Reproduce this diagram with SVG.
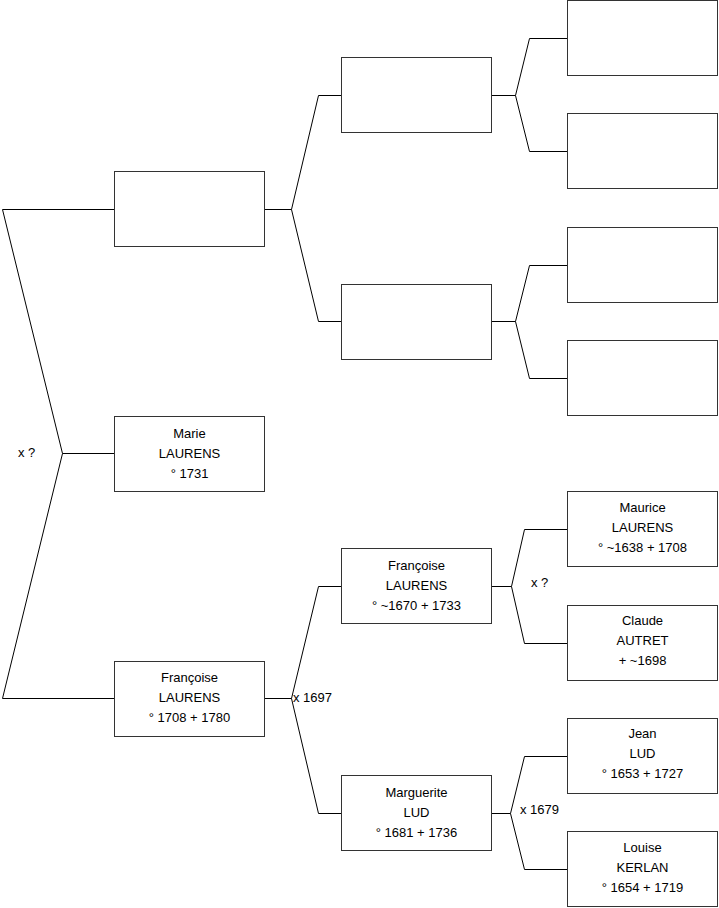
<svg xmlns="http://www.w3.org/2000/svg" width="719" height="908" viewBox="0 0 719 908">
<style>
.box{fill:#fff;stroke:#333;stroke-width:1}
.c{fill:none;stroke:#000;stroke-width:1}
text{font-family:"Liberation Sans",Arial,sans-serif;font-size:13px;fill:#000}
.m{text-anchor:middle}
</style>
<rect width="719" height="908" fill="#fff"/>
<g id="connectors">
<path class="c" d="M114.5 453.5H62.5L2.5 209.5H114.5M62.5 453.5L2.5 698.5H114.5"/>
<path class="c" d="M265 209.5H291.5L318.5 95.5H341M291.5 209.5L318.5 321.5H341"/>
<path class="c" d="M265 698.5H291.5L318.5 586.5H341M291.5 698.5L318.5 813.5H341"/>
<path class="c" d="M492 95.5H515.5L529.5 38.5H567M515.5 95.5L529.5 151.5H567"/>
<path class="c" d="M492 321.5H515.5L529.5 265.5H567M515.5 321.5L529.5 378.5H567"/>
<path class="c" d="M492 586.5H511.5L524.5 529.5H567M511.5 586.5L524.5 643.5H567"/>
<path class="c" d="M492 813.5H510.5L524.5 756.5H567M510.5 813.5L524.5 869.5H567"/>
<text x="18" y="457">x ?</text>
<text x="293" y="702">x 1697</text>
<text x="531" y="587">x ?</text>
<text x="520" y="814">x 1679</text>
</g>
<g id="n1"><rect class="box" x="114.5" y="171.5" width="150" height="75"/></g>
<g id="n2"><rect class="box" x="114.5" y="416.5" width="150" height="75"/>
<text class="m" x="189.5" y="438">Marie</text><text class="m" x="189.5" y="458">LAURENS</text><text class="m" x="189.5" y="478">° 1731</text></g>
<g id="n3"><rect class="box" x="114.5" y="661.5" width="150" height="75"/>
<text class="m" x="189.5" y="682">Françoise</text><text class="m" x="189.5" y="702">LAURENS</text><text class="m" x="189.5" y="722">° 1708 + 1780</text></g>
<g id="n4"><rect class="box" x="341.5" y="57.5" width="150" height="75"/></g>
<g id="n5"><rect class="box" x="341.5" y="284.5" width="150" height="75"/></g>
<g id="n6"><rect class="box" x="341.5" y="548.5" width="150" height="75"/>
<text class="m" x="416.5" y="570">Françoise</text><text class="m" x="416.5" y="590">LAURENS</text><text class="m" x="416.5" y="610">° ~1670 + 1733</text></g>
<g id="n7"><rect class="box" x="341.5" y="775.5" width="150" height="75"/>
<text class="m" x="416.5" y="797">Marguerite</text><text class="m" x="416.5" y="817">LUD</text><text class="m" x="416.5" y="837">° 1681 + 1736</text></g>
<g id="n8"><rect class="box" x="567.5" y="0.5" width="150" height="75"/></g>
<g id="n9"><rect class="box" x="567.5" y="113.5" width="150" height="75"/></g>
<g id="n10"><rect class="box" x="567.5" y="227.5" width="150" height="75"/></g>
<g id="n11"><rect class="box" x="567.5" y="340.5" width="150" height="75"/></g>
<g id="n12"><rect class="box" x="567.5" y="491.5" width="150" height="75"/>
<text class="m" x="642.5" y="512">Maurice</text><text class="m" x="642.5" y="532">LAURENS</text><text class="m" x="642.5" y="552">° ~1638 + 1708</text></g>
<g id="n13"><rect class="box" x="567.5" y="605.5" width="150" height="75"/>
<text class="m" x="642.5" y="625">Claude</text><text class="m" x="642.5" y="645">AUTRET</text><text class="m" x="642.5" y="665">+ ~1698</text></g>
<g id="n14"><rect class="box" x="567.5" y="718.5" width="150" height="75"/>
<text class="m" x="642.5" y="738">Jean</text><text class="m" x="642.5" y="758">LUD</text><text class="m" x="642.5" y="778">° 1653 + 1727</text></g>
<g id="n15"><rect class="box" x="567.5" y="831.5" width="150" height="75"/>
<text class="m" x="642.5" y="852">Louise</text><text class="m" x="642.5" y="872">KERLAN</text><text class="m" x="642.5" y="892">° 1654 + 1719</text></g>
</svg>
